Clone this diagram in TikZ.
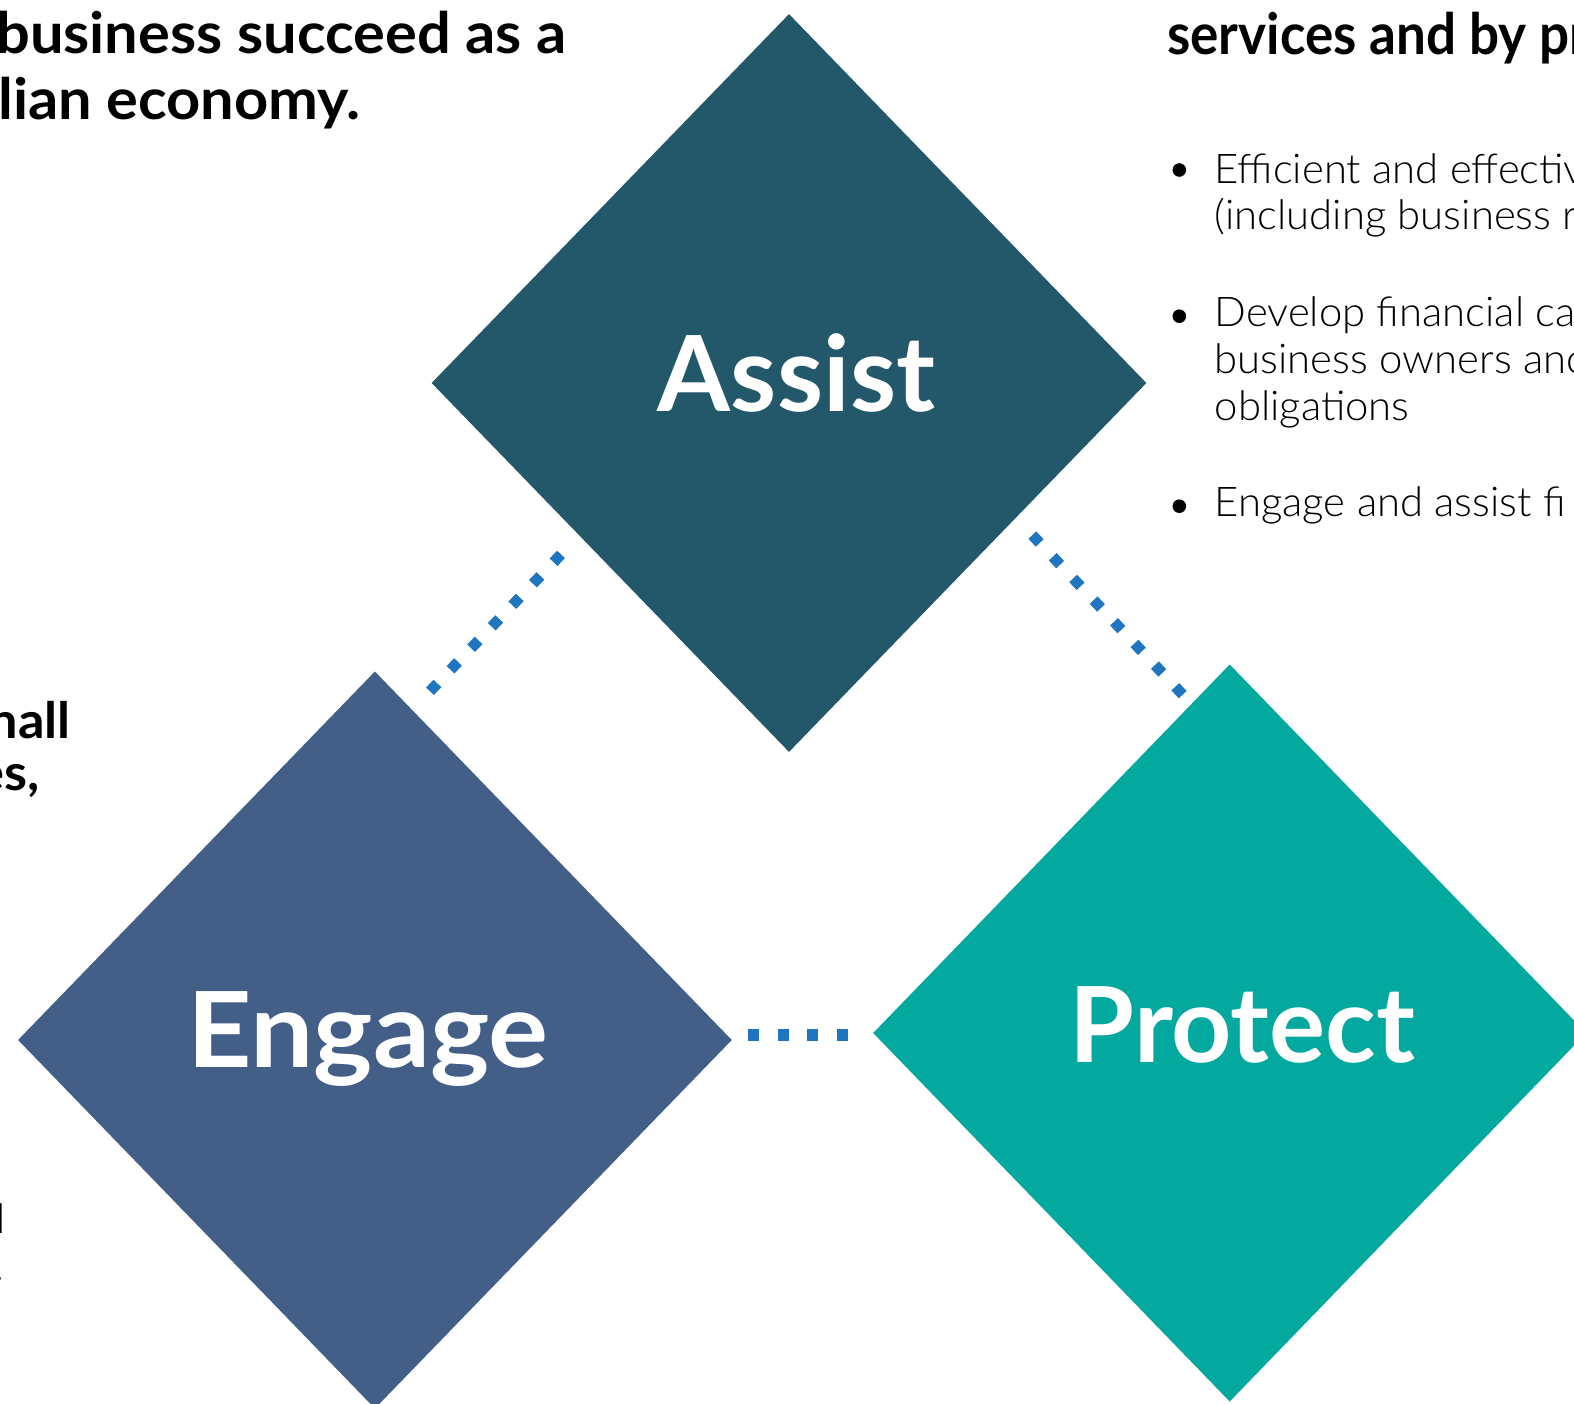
\documentclass[tikz,border=0pt]{standalone}
\usepackage{fontspec}
\setmainfont{Lato}
\newfontfamily\lightfont{Lato Light}[FakeStretch=1.02]
\newfontfamily\headfont{Lato Bold}[FakeStretch=1.045]
\newfontfamily\rheadfont{Lato Bold}[FakeStretch=0.93]
\newfontfamily\engfont{Lato Bold}[FakeStretch=1.07]
\usetikzlibrary{shapes.geometric}
\definecolor{assistc}{HTML}{22586A}
\definecolor{engagec}{HTML}{435F88}
\definecolor{protectc}{HTML}{03A89E}
\definecolor{dotc}{HTML}{1F75C0}
\tikzset{
  dia/.style={shape=diamond, inner sep=0pt, outer sep=0pt, draw=none,
    minimum width=714pt, minimum height=737pt},
  biglbl/.style={anchor=base, inner sep=0pt, text=white,
    font=\fontsize{105}{110}\selectfont\bfseries},
  headtxt/.style={anchor=base west, inner sep=0pt,
    font=\fontsize{57}{66}\selectfont\headfont},
  sidetxt/.style={anchor=base east, inner sep=0pt,
    font=\fontsize{50}{56}\selectfont\headfont},
  bodytxt/.style={anchor=base west, inner sep=0pt,
    font=\fontsize{41}{47}\selectfont\lightfont},
  cuttxt/.style={anchor=base east, inner sep=0pt,
    font=\fontsize{41}{47}\selectfont\lightfont},
  dotline/.style={draw=dotc, line width=10.8pt, line cap=butt,
    dash pattern=on 10.8pt off 18.98pt},
  dotlineh/.style={draw=dotc, line width=11.3pt, line cap=butt,
    dash pattern=on 10.7pt off 18.83pt},
  bullet/.style={fill=black}
}
\begin{document}
\begin{tikzpicture}[x=1pt,y=-1pt]
\useasboundingbox (0,0) rectangle (1574,1404);
\clip (0,0) rectangle (1574,1404);

% diamonds
\node[dia, fill=assistc, minimum width=714.7pt, minimum height=737.8pt] (assist) at (789.0,383.0) {};
\node[dia, fill=engagec, minimum width=713.7pt, minimum height=737pt] (engage) at (374.9,1040.0) {};
\node[dia, fill=protectc, minimum width=713pt, minimum height=737pt] (protect) at (1229.7,1033.0) {};

% labels
\node[biglbl] (assistlbl) at (796.5,411.6) {Assist};
\node[biglbl, font=\fontsize{105}{110}\selectfont\engfont] (engagelbl) at (367.9,1067.0) {Engage};
\node[biglbl] (protectlbl) at (1242.5,1062.0) {Protect};

% dotted connectors
\coordinate (l1) at (561.0,554.4);
\coordinate (l2) at (430.0,691.2);
\coordinate (r1) at (1032.3,535.1);
\coordinate (r2) at (1182.7,694.6);
\coordinate (h1) at (748.3,1035.0);
\coordinate (h2) at (847.7,1035.0);
\draw[dotline] (l1) -- (l2);
\draw[dotline] (r1) -- (r2);
\draw[dotlineh] (h1) -- (h2);

% top-left text
\node[headtxt] (tl1) at (-4,53.3) {business succeed as a};
\node[headtxt] (tl2) at (-2,120.0) {lian economy.};

% left middle text
\node[sidetxt] (lm1) at (71,738.3) {nall};
\node[sidetxt] (lm2) at (40,790.0) {es,};

% bottom-left fragments
\node[cuttxt] (bl1) at (6,1233.3) {l};
\node[cuttxt] (bl2) at (4,1280.5) {.};

% right text
\node[headtxt, font=\fontsize{57}{66}\selectfont\rheadfont] (rh) at (1167,55.0) {services and by pr};
\fill[bullet] (1179.3,170.0) circle (6.8pt);
\fill[bullet] (1179.3,316.2) circle (6.8pt);
\fill[bullet] (1179.3,506.2) circle (6.8pt);
\node[bodytxt] (b1a) at (1214.5,183.3) {Efficient and effectiv};
\node[bodytxt] (b1b) at (1214.5,230.0) {(including business r};
\node[bodytxt] (b2a) at (1214.5,326.7) {Develop financial ca};
\node[bodytxt] (b2b) at (1214.5,373.6) {business owners anc};
\node[bodytxt] (b2c) at (1214.5,420.3) {obligations};
\node[bodytxt] (b3a) at (1214.5,516.7) {Engage and assist fi};
\end{tikzpicture}
\end{document}
